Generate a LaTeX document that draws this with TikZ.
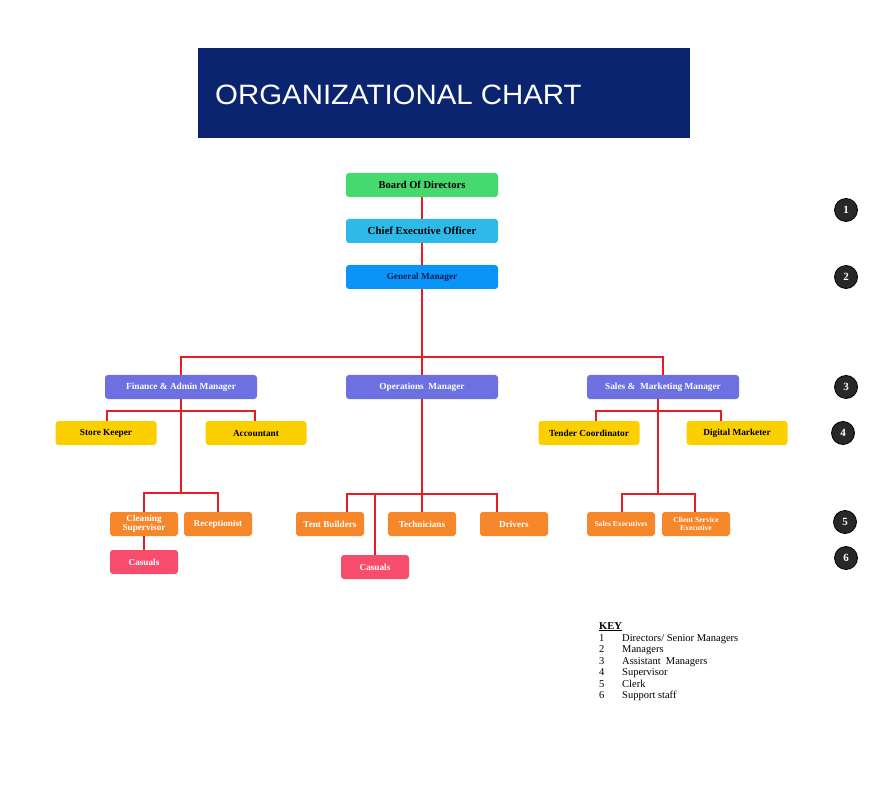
\documentclass[tikz,border=0pt]{standalone}
\usepackage{fontspec}
\setmainfont{Liberation Serif}
\newfontfamily\titlefont{Liberation Sans}
\usetikzlibrary{positioning}

\definecolor{navy}{RGB}{11,36,112}
\definecolor{boardgreen}{RGB}{70,218,110}
\definecolor{ceocyan}{RGB}{45,186,232}
\definecolor{gmblue}{RGB}{10,148,248}
\definecolor{mgrpurple}{RGB}{108,112,224}
\definecolor{supyellow}{RGB}{252,208,0}
\definecolor{clkorange}{RGB}{245,134,42}
\definecolor{suppink}{RGB}{248,76,108}
\definecolor{linkred}{RGB}{232,28,36}
\definecolor{dotgrey}{RGB}{40,40,40}

\tikzset{
  box/.style={rounded corners=3pt, inner sep=0pt, align=center,
              font=\bfseries\fontsize{10.5}{10.5}\selectfont},
  topbox/.style={box, minimum width=152pt, minimum height=24pt},
  mgrbox/.style={box, fill=mgrpurple, text=white, minimum width=152pt, minimum height=24pt,
                 font=\bfseries\fontsize{9.3}{9.3}\selectfont},
  supbox/.style={box, fill=supyellow, minimum width=101pt, minimum height=24pt,
                 font=\bfseries\fontsize{9.3}{9.3}\selectfont},
  clkbox/.style={box, fill=clkorange, text=white, minimum width=68pt, minimum height=24pt,
                 font=\bfseries\fontsize{9.2}{8}\selectfont},
  casbox/.style={box, fill=suppink, text=white, minimum width=68pt, minimum height=24pt,
                 font=\bfseries\fontsize{9.2}{8}\selectfont},
  link/.style={draw=linkred, line width=1.6pt},
  level/.style={circle, draw=black, line width=0.8pt, fill=dotgrey, text=white,
                minimum size=23pt, inner sep=0pt, font=\bfseries\fontsize{11}{11}\selectfont},
  keyline/.style={anchor=base west, inner sep=0pt, font=\fontsize{10.5}{10.5}\selectfont}
}

\begin{document}
\begin{tikzpicture}[x=1pt, y=-1pt]
  \useasboundingbox (0,0) rectangle (892,786);

  %-----------------------------
  % Title banner
  \node[fill=navy, minimum width=492pt, minimum height=90pt, inner sep=0pt] (banner) at (444,93) {};
  \node[text=white, anchor=west, inner sep=0pt, xscale=1.05,
        font=\titlefont\fontsize{28}{28}\selectfont] (title) at (215,95) {ORGANIZATIONAL CHART};

  %-----------------------------
  % Top of the tree
  \node[topbox, fill=boardgreen] (board) at (422,185) {Board Of Directors};
  \node[topbox, fill=ceocyan, font=\bfseries\fontsize{10.8}{10.8}\selectfont] (ceo) at (422,231) {Chief Executive Officer};
  \node[topbox, fill=gmblue, text=navy!80!black, font=\bfseries\fontsize{9.3}{9.3}\selectfont] (gm) at (422,277) {General Manager};

  % Managers
  \node[mgrbox] (fin) at (181,387) {Finance \& Admin Manager};
  \node[mgrbox] (ops) at (422,387) {Operations\ \ Manager};
  \node[mgrbox] (sales) at (663,387) {Sales \&\ \ Marketing Manager};

  % Supervisors
  \node[supbox] (store) at (106,433) {Store Keeper};
  \node[supbox] (acc) at (256,433) {Accountant};
  \node[supbox] (tender) at (589,433) {Tender Coordinator};
  \node[supbox] (digital) at (737,433) {Digital Marketer};

  % Clerks
  \node[clkbox] (clean) at (144,524) {Cleaning\\Supervisor};
  \node[clkbox] (recep) at (218,524) {Receptionist};
  \node[clkbox] (tent) at (330,524) {Tent Builders};
  \node[clkbox] (tech) at (422,524) {Technicians};
  \node[clkbox] (drivers) at (514,524) {Drivers};
  \node[clkbox, font=\bfseries\fontsize{7.6}{7.6}\selectfont] (salesex) at (621,524) {Sales Executives};
  \node[clkbox, font=\bfseries\fontsize{7.6}{7.6}\selectfont] (client) at (696,524) {Client Service\\Executive};

  % Support staff
  \node[casbox] (casA) at (144,562) {Casuals};
  \node[casbox] (casB) at (375,567) {Casuals};

  %-----------------------------
  % Connectors
  \coordinate (busA) at (422,357);
  \coordinate (finB) at (181,411);
  \coordinate (finC) at (181,493);
  \coordinate (opsB) at (422,494);
  \coordinate (salB) at (658,411);
  \coordinate (salC) at (658,494);

  \draw[link] (board) -- (ceo);
  \draw[link] (ceo) -- (gm);
  \draw[link] (gm.south) -- (busA);
  \draw[link] (busA) -| (fin.north);
  \draw[link] (busA) -| (sales.north);
  \draw[link] (busA) -- (ops.north);

  % finance branch
  \draw[link] (fin.south) -- (finC);
  \draw[link] (finB) -| ([xshift=1pt]store.north);
  \draw[link] (finB) -| ([xshift=-1pt]acc.north);
  \draw[link] (finC) -| (clean.north);
  \draw[link] (finC) -| (recep.north);
  \draw[link] (clean) -- (casA);

  % operations branch
  \draw[link] (ops.south) -- (tech.north);
  \draw[link] (opsB) -| ([xshift=17pt]tent.north);
  \draw[link] (opsB) -| ([xshift=-17pt]drivers.north);
  \draw[link] (opsB) -| (casB.north);

  % sales branch
  \draw[link] ([xshift=-5pt]sales.south) -- (salC);
  \draw[link] (salB) -| ([xshift=7pt]tender.north);
  \draw[link] (salB) -| ([xshift=-16pt]digital.north);
  \draw[link] (salC) -| ([xshift=1pt]salesex.north);
  \draw[link] (salC) -| ([xshift=-1pt]client.north);

  %-----------------------------
  % Level markers
  \node[level] (lvA) at (846,210) {1};
  \node[level] (lvB) at (846,277) {2};
  \node[level] (lvC) at (846,387) {3};
  \node[level] (lvD) at (843,433) {4};
  \node[level] (lvE) at (845,522) {5};
  \node[level] (lvF) at (846,558) {6};

  %-----------------------------
  % Key
  \node[keyline, font=\bfseries\fontsize{10.5}{10.5}\selectfont] (key) at (599,629) {\underline{KEY}};
  \foreach \n/\txt [count=\i from 0] in {1/{Directors/ Senior Managers}, 2/Managers,
      3/{Assistant\ \ Managers}, 4/Supervisor, 5/Clerk, 6/{Support staff}} {
    \node[keyline] (keyn\n) at (599,{641+11.5*\i}) {\n};
    \node[keyline] (keyt\n) at (622,{641+11.5*\i}) {\txt};
  }
\end{tikzpicture}
\end{document}
